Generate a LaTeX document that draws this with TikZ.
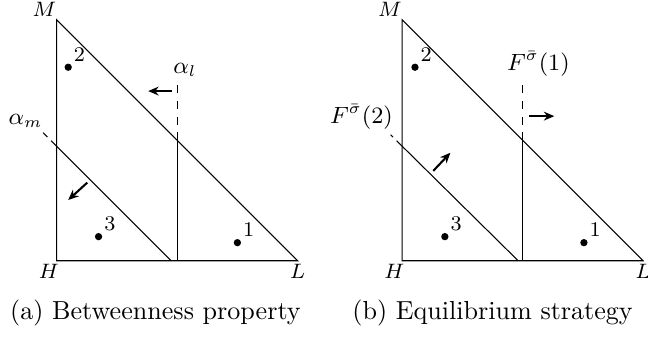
\documentclass[tikz,border=0pt]{standalone}
\usepackage{amsmath}
\usepackage{tikz}
\usetikzlibrary{arrows.meta,positioning}

\begin{document}
\begin{tikzpicture}[
  x=92.4pt,y=92.4pt,
  font=\normalsize,
  side/.style={draw},
  cut/.style={draw,dashed},
  stub/.style={draw,densely dashed},
  move/.style={-{Stealth[length=4pt,width=3.4pt]},thick},
  agent/.style={circle,fill,inner sep=0pt,minimum size=2.8pt},
  vtx/.style={font=\footnotesize,inner sep=1pt},
  num/.style={font=\footnotesize,inner sep=0.3pt,label distance=0.8pt},
  thr/.style={font=\small,inner sep=1pt},
]
\useasboundingbox (-0.235,-0.317) rectangle (2.454,1.082);

% ---------- (a) betweenness property ----------
\coordinate (aH) at (0,0);
\coordinate (aM) at (0,1);
\coordinate (aL) at (1,0);
\draw[side] (aH) -- (aM) -- (aL) -- cycle;
\node[vtx,anchor=south east,xshift=1pt] at (aM) {$M$};
\node[vtx,anchor=north east,xshift=2pt] at (aH) {$H$};
\node[vtx,anchor=north] at (aL) {$L$};

\coordinate (alBot) at (0.5,0);
\coordinate (alMid) at (0.5,0.5);
\coordinate (alTop) at (0.5,0.752);
\draw[side] (alBot) -- (alMid);
\draw[cut] (alMid) -- (alTop);
\node[thr,anchor=south,xshift=3pt] (al) at (alTop) {$\alpha_l$};

\coordinate (amBot) at (0.475,0);
\coordinate (amMid) at (0,0.475);
\coordinate (amTop) at (-0.056,0.531);
\draw[side] (amBot) -- (amMid);
\draw[stub] (amMid) -- (amTop);
\node[thr,anchor=south east,xshift=1pt,yshift=1pt] (am) at (amTop) {$\alpha_m$};

\coordinate (aS1) at (0.477,0.704);
\coordinate (aE1) at (0.380,0.704);
\draw[move] (aS1) -- (aE1);
\coordinate (aS2) at (0.127,0.324);
\coordinate (aE2) at (0.048,0.252);
\draw[move] (aS2) -- (aE2);

\node[agent,label={[num]north east:1}] (a1) at (0.750,0.075) {};
\node[agent,label={[num]north east:2}] (a2) at (0.048,0.803) {};
\node[agent,label={[num]north east:3}] (a3) at (0.174,0.100) {};

\node (acap) at (0.41,-0.217) {(a) Betweenness property};

% ---------- (b) equilibrium strategy ----------
\begin{scope}[xshift=1.434*92.4pt]
\coordinate (bH) at (0,0);
\coordinate (bM) at (0,1);
\coordinate (bL) at (1,0);
\draw[side] (bH) -- (bM) -- (bL) -- cycle;
\node[vtx,anchor=south east,xshift=1pt] at (bM) {$M$};
\node[vtx,anchor=north east,xshift=2pt] at (bH) {$H$};
\node[vtx,anchor=north] at (bL) {$L$};

\coordinate (f1Bot) at (0.5,0);
\coordinate (f1Mid) at (0.5,0.5);
\coordinate (f1Top) at (0.5,0.752);
\draw[side] (f1Bot) -- (f1Mid);
\draw[cut] (f1Mid) -- (f1Top);
\node[thr,anchor=south,xshift=6pt] (f1) at (f1Top) {$F^{\bar\sigma}(1)$};

\coordinate (f2Bot) at (0.481,0);
\coordinate (f2Mid) at (0,0.475);
\coordinate (f2Top) at (-0.048,0.523);
\draw[stub] (f2Mid) -- (f2Top);
\draw[side] (f2Bot) -- (f2Mid);
\node[thr,anchor=south east,xshift=2pt,yshift=1pt] (f2) at (f2Top) {$F^{\bar\sigma}(2)$};

\coordinate (bS1) at (0.527,0.600);
\coordinate (bE1) at (0.631,0.600);
\draw[move] (bS1) -- (bE1);
\coordinate (bS2) at (0.129,0.373);
\coordinate (bE2) at (0.200,0.448);
\draw[move] (bS2) -- (bE2);

\node[agent,label={[num]north east:1}] (b1) at (0.754,0.075) {};
\node[agent,label={[num]north east:2}] (b2) at (0.053,0.803) {};
\node[agent,label={[num]north east:3}] (b3) at (0.177,0.100) {};

\node (bcap) at (0.375,-0.217) {(b) Equilibrium strategy};
\end{scope}

\end{tikzpicture}
\end{document}
